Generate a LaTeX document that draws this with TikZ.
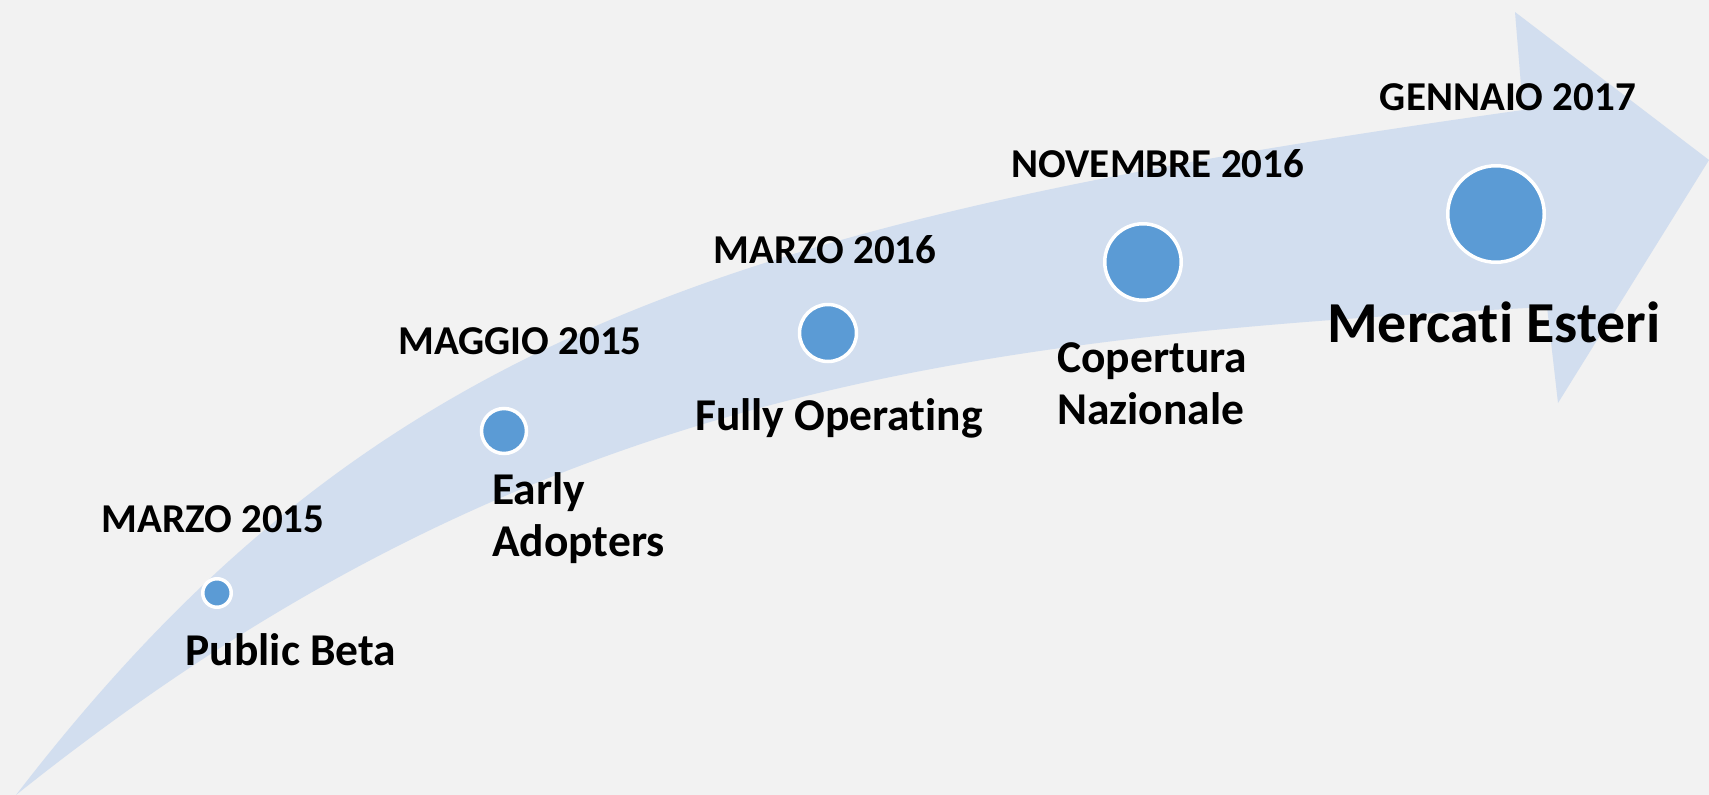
\documentclass[tikz,border=0pt]{standalone}
\usepackage{fontspec}
\setmainfont[Ligatures=NoCommon]{Carlito}

\definecolor{bgcol}{HTML}{F2F2F2}
\definecolor{bandblue}{HTML}{D2DEEF}
\definecolor{dotblue}{HTML}{5B9BD5}

\begin{document}
\begin{tikzpicture}[x=1pt, y=-1pt, % one unit = one pixel, y downwards
  dot/.style={circle, fill=dotblue, draw=white, line width=3.5pt, inner sep=0pt},
  datetext/.style={font=\bfseries\fontsize{41}{49}\selectfont, inner sep=0pt, anchor=base},
  stagetext/.style={font=\bfseries\fontsize{45.5}{52}\selectfont, inner sep=0pt, anchor=base}]

  % Background
  \fill [bgcol] (0,0) rectangle (1709,795);
  \useasboundingbox (0,0) rectangle (1709,795);

  % Curved arrow
  \fill [bandblue] (16,795)
    .. controls (366,340) and (723,222) .. (1523,110)
    -- (1515,12) -- (1709,160) -- (1558,403) -- (1547,307)
    .. controls (947,337) and (516,395) .. (16,795)
    -- cycle;

  % Milestones
  \node [dot, minimum size=28.5pt] (beta) at (217,593) {};
  \node [dot, minimum size=45pt] (early) at (504,431) {};
  \node [dot, minimum size=57pt] (fully) at (828,333) {};
  \node [dot, minimum size=76.5pt] (naz) at (1143,262) {};
  \node [dot, minimum size=96.5pt] (estero) at (1496,214) {};

  % Dates
  \node [datetext] (d1) at (213,532) {MARZO 2015};
  \node [datetext] (d2) at (520,354) {MAGGIO 2015};
  \node [datetext] (d3) at (825,263) {MARZO 2016};
  \node [datetext] (d4) at (1158,177) {NOVEMBRE 2016};
  \node [datetext] (d5) at (1508,110) {GENNAIO 2017};

  % Stages (base of a two-line node is its last line)
  \node [stagetext] (s1) at (291,665) {Public Beta};
  \node [stagetext, anchor=base west, align=left] (s2) at (492,556) {Early\\Adopters};
  \node [stagetext] (s3) at (839,430) {Fully Operating};
  \node [stagetext, anchor=base west, align=left] (s4) at (1057,424) {Copertura\\Nazionale};
  \node [stagetext, font=\bfseries\fontsize{58}{66}\selectfont] (s5) at (1494,342) {Mercati Esteri};
\end{tikzpicture}
\end{document}
